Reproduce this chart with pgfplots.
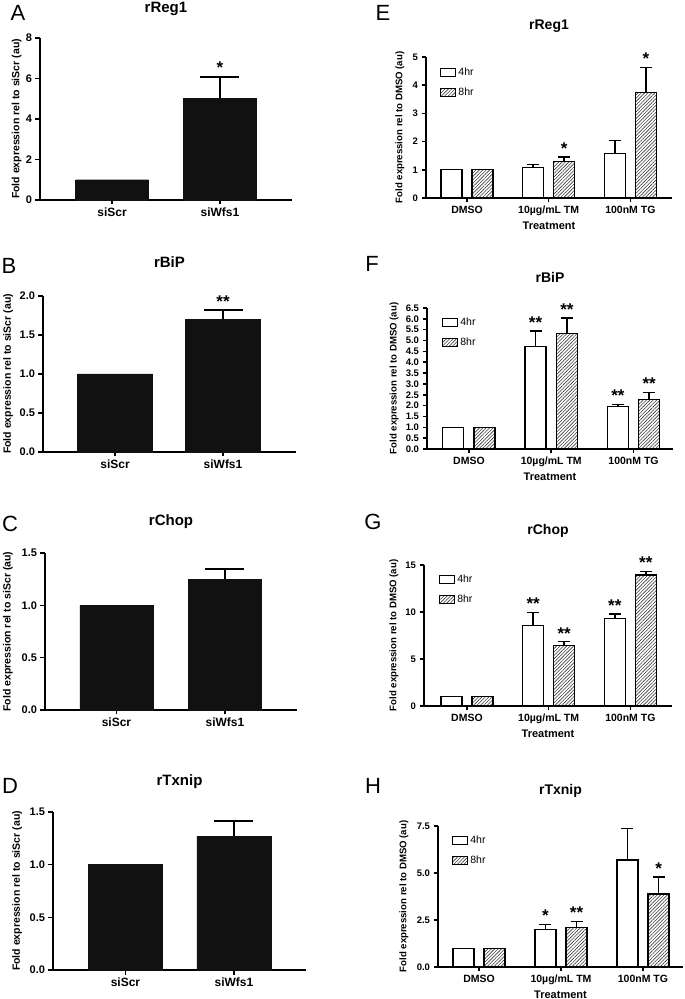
\documentclass[border=0pt]{standalone}
\usepackage{fontspec}
\setmainfont{Liberation Sans}
\usepackage{pgfplots}
\pgfplotsset{compat=1.18}
\usetikzlibrary{patterns.meta}

\definecolor{barblack}{HTML}{111111}
\definecolor{hatch}{HTML}{3A3A3A}

\pgfplotsset{
  panel/.style={
    scale only axis, clip=false, ymin=0, anchor=south west,
    axis x line*=bottom, axis y line*=left,
    axis line style={line width=1.8pt, -},
    every tick/.append style={line width=1.5pt, black},
    major tick length=4.5pt, tick align=outside,
    /pgf/number format/assume math mode=true,
    title style={font=\bfseries\fontsize{15}{16}\selectfont, anchor=center},
    ylabel style={anchor=center},
  },
  leftpanel/.style={panel,
    xtick={0,1}, xticklabels={siScr,siWfs1},
    ylabel={Fold expression rel to siScr (au)},
    ylabel style={font=\bfseries\fontsize{10.5}{11}\selectfont},
    x tick label style={font=\bfseries\fontsize{12}{13}\selectfont},
    y tick label style={font=\bfseries\fontsize{11}{12}\selectfont},
  },
  rightpanel/.style={panel,
    xtick={0,1,2}, xticklabels={DMSO,10µg/mL TM,100nM TG},
    ylabel={Fold expression rel to DMSO (au)},
    xlabel={Treatment},
    title style={font=\bfseries\fontsize{14}{15}\selectfont},
    ylabel style={font=\bfseries\fontsize{9.6}{10}\selectfont},
    xlabel style={font=\bfseries\fontsize{11}{12}\selectfont, at={(axis description cs:0.5,-0.195)}, anchor=center},
    x tick label style={font=\bfseries\fontsize{10.5}{11}\selectfont},
    y tick label style={font=\bfseries\fontsize{9.5}{10}\selectfont},
    legend style={draw=none, fill=none, inner sep=0pt, row sep=7pt,
      font=\fontsize{10.5}{11}\selectfont, anchor=north west,
      /tikz/every even column/.append style={column sep=6pt}},
    legend cell align=left,
  },
  errL/.style={/pgfplots/error bars/y dir=plus, /pgfplots/error bars/y explicit,
    /pgfplots/error bars/error bar style={line width=1.8pt, black},
    /pgfplots/error bars/error mark options={rotate=90, line width=1.8pt, mark size=19.5pt, black}},
  errR/.style={/pgfplots/error bars/y dir=plus, /pgfplots/error bars/y explicit,
    /pgfplots/error bars/error bar style={line width=1.5pt, black},
    /pgfplots/error bars/error mark options={rotate=90, line width=1.5pt, mark size=6pt, black}},
  leftbar/.style={ybar, bar width=73pt, bar shift=0pt, fill=barblack, draw=barblack, errL},
  rb4/.style={ybar, bar width=21pt, bar shift=0pt, fill=white, draw=black, line width=1.3pt, errR},
  rb8/.style={ybar, bar width=21pt, bar shift=0pt, draw=black, line width=1.3pt,
    pattern={Lines[angle=45, distance=2.4pt, line width=0.6pt]}, pattern color=hatch, errR},
  stars/.style={ybar, bar width=0pt, bar shift=0pt, draw=none, fill=none, forget plot,
    point meta=explicit symbolic, nodes near coords,
    every node near coord/.append style={font=\bfseries\fontsize{17}{17}\selectfont, black, inner sep=2.5pt}},
  leg4/.style={legend image code/.code={\draw[fill=white, draw=black, line width=1.2pt] (0pt,-4pt) rectangle (15pt,4pt);}},
  leg8/.style={legend image code/.code={\draw[draw=black, line width=1.2pt, pattern={Lines[angle=45, distance=2.4pt, line width=0.6pt]}, pattern color=hatch] (0pt,-4pt) rectangle (15pt,4pt);}},
}

\begin{document}
\begin{tikzpicture}
\useasboundingbox (0pt,0pt) rectangle (685pt,999pt);

% panel letters
\node[font=\fontsize{22}{22}\selectfont, inner sep=0pt] at (18pt,986pt) {A};
\node[font=\fontsize{22}{22}\selectfont, inner sep=0pt] at (9pt,733pt) {B};
\node[font=\fontsize{22}{22}\selectfont, inner sep=0pt] at (10pt,475pt) {C};
\node[font=\fontsize{22}{22}\selectfont, inner sep=0pt] at (10pt,213pt) {D};
\node[font=\fontsize{22}{22}\selectfont, inner sep=0pt] at (383pt,986pt) {E};
\node[font=\fontsize{22}{22}\selectfont, inner sep=0pt] at (372pt,735pt) {F};
\node[font=\fontsize{22}{22}\selectfont, inner sep=0pt] at (373pt,477pt) {G};
\node[font=\fontsize{22}{22}\selectfont, inner sep=0pt] at (373pt,213pt) {H};

% ---------------- A
\begin{axis}[leftpanel, at={(40pt,799pt)}, width=252pt, height=162pt,
  xmin=-0.667, xmax=1.667, ymax=8, ytick={0,2,4,6,8},
  title={rReg1}, title style={at={(axis description cs:0.5,1)}, yshift=23pt},
  ylabel style={at={(axis description cs:-0.093,0.5)}}]
\addplot[leftbar] coordinates {(0,1.0) (1,5.02) +- (0,1.07)};
\addplot[stars] coordinates {(1,6.09) [*]};
\end{axis}

% ---------------- B
\begin{axis}[leftpanel, at={(43pt,547pt)}, width=253pt, height=156pt,
  xmin=-0.667, xmax=1.676, ymax=2, ytick={0,0.5,1,1.5,2},
  yticklabel style={/pgf/number format/.cd, fixed, fixed zerofill, precision=1},
  title={rBiP}, title style={at={(axis description cs:0.5,1)}, yshift=28pt},
  ylabel style={at={(axis description cs:-0.138,0.5)}}]
\addplot[leftbar, bar width=75pt] coordinates {(0,1.0) (1,1.705) +- (0,0.115)};
\addplot[stars] coordinates {(1,1.82) [**]};
\end{axis}

% ---------------- C
\begin{axis}[leftpanel, at={(45pt,289pt)}, width=252pt, height=157pt,
  xmin=-0.659, xmax=1.664, ymax=1.5, ytick={0,0.5,1,1.5},
  yticklabel style={/pgf/number format/.cd, fixed, fixed zerofill, precision=1},
  title={rChop}, title style={at={(axis description cs:0.5,1)}, yshift=25pt},
  ylabel style={at={(axis description cs:-0.147,0.5)}}]
\addplot[leftbar] coordinates {(0,1.0) (1,1.25) +- (0,0.10)};
\end{axis}

% ---------------- D
\begin{axis}[leftpanel, at={(53pt,29pt)}, width=253pt, height=158pt,
  xmin=-0.668, xmax=1.664, ymax=1.5, ytick={0,0.5,1,1.5},
  yticklabel style={/pgf/number format/.cd, fixed, fixed zerofill, precision=1},
  title={rTxnip}, title style={at={(axis description cs:0.5,1)}, yshift=24pt},
  ylabel style={at={(axis description cs:-0.142,0.5)}}]
\addplot[leftbar, bar width=74pt] coordinates {(0,1.0) (1,1.27) +- (0,0.145)};
\end{axis}

% ---------------- E  (4hr at group-0.19, 8hr at group+0.19)
\begin{axis}[rightpanel, at={(426pt,801pt)}, width=246pt, height=141pt,
  xmin=-0.502, xmax=2.51, ymax=5, ytick={0,1,2,3,4,5},
  title={rReg1}, title style={at={(axis description cs:0.5,1)}, yshift=25pt},
  ylabel style={at={(axis description cs:-0.106,0.5)}},
  legend style={at={(axis description cs:0.057,0.94)}}]
\addlegendimage{leg4}
\addlegendimage{leg8}
\addplot[rb4, forget plot] coordinates {(-0.19,1.0) (0.81,1.09) +- (0,0.10) (1.81,1.58) +- (0,0.45)};
\addplot[rb8, forget plot] coordinates {(0.19,1.0) (1.19,1.29) +- (0,0.16) (2.19,3.75) +- (0,0.88)};
\addplot[stars] coordinates {(1.19,1.45) [*] (2.19,4.63) [*]};
\legend{4hr,8hr}
\end{axis}

% ---------------- F
\begin{axis}[rightpanel, at={(427pt,550pt)}, width=246pt, height=141pt,
  xmin=-0.51, xmax=2.48, ymax=6.5, ytick={0,0.5,1,1.5,2,2.5,3,3.5,4,4.5,5,5.5,6,6.5},
  yticklabel style={/pgf/number format/.cd, fixed, fixed zerofill, precision=1},
  title={rBiP}, title style={at={(axis description cs:0.5,1)}, yshift=25pt},
  ylabel style={at={(axis description cs:-0.134,0.5)}},
  legend style={at={(axis description cs:0.061,0.945)}}]
\addlegendimage{leg4}
\addlegendimage{leg8}
\addplot[rb4, forget plot] coordinates {(-0.19,1.0) (0.81,4.71) +- (0,0.74) (1.81,1.95) +- (0,0.11)};
\addplot[rb8, forget plot] coordinates {(0.19,1.0) (1.19,5.33) +- (0,0.72) (2.19,2.27) +- (0,0.33)};
\addplot[stars] coordinates {(0.81,5.45) [**] (1.81,2.06) [**] (1.19,6.05) [**] (2.19,2.60) [**]};
\legend{4hr,8hr}
\end{axis}

% ---------------- G
\begin{axis}[rightpanel, at={(424pt,293pt)}, width=248pt, height=141pt,
  xmin=-0.526, xmax=2.51, ymax=15, ytick={0,5,10,15},
  title={rChop}, title style={at={(axis description cs:0.5,1)}, yshift=28pt},
  ylabel style={at={(axis description cs:-0.121,0.5)}},
  legend style={at={(axis description cs:0.06,0.945)}}]
\addlegendimage{leg4}
\addlegendimage{leg8}
\addplot[rb4, forget plot] coordinates {(-0.19,1.0) (0.81,8.54) +- (0,1.42) (1.81,9.33) +- (0,0.46)};
\addplot[rb8, forget plot] coordinates {(0.19,1.0) (1.19,6.41) +- (0,0.43) (2.19,13.94) +- (0,0.35)};
\addplot[stars] coordinates {(0.81,9.96) [**] (1.81,9.79) [**] (1.19,6.84) [**] (2.19,14.29) [**]};
\legend{4hr,8hr}
\end{axis}

% ---------------- H
\begin{axis}[rightpanel, at={(438pt,32pt)}, width=245pt, height=141pt,
  xmin=-0.5, xmax=2.488, ymax=7.5, ytick={0,2.5,5,7.5},
  yticklabel style={/pgf/number format/.cd, fixed, fixed zerofill, precision=1},
  title={rTxnip}, title style={at={(axis description cs:0.5,1)}, yshift=29pt},
  ylabel style={at={(axis description cs:-0.139,0.5)}},
  legend style={at={(axis description cs:0.057,0.945)}}]
\addlegendimage{leg4}
\addlegendimage{leg8}
\addplot[rb4, forget plot] coordinates {(-0.19,1.0) (0.81,2.0) +- (0,0.27) (1.81,5.69) +- (0,1.68)};
\addplot[rb8, forget plot] coordinates {(0.19,1.0) (1.19,2.11) +- (0,0.30) (2.19,3.88) +- (0,0.92)};
\addplot[stars] coordinates {(0.81,2.27) [*] (1.19,2.41) [**] (2.19,4.80) [*]};
\legend{4hr,8hr}
\end{axis}

\end{tikzpicture}
\end{document}
